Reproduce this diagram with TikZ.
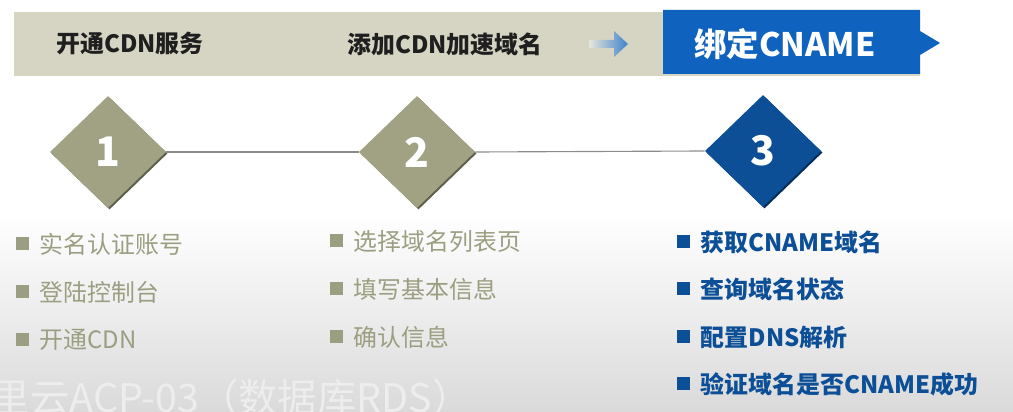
\documentclass[tikz,border=0pt]{standalone}
\usepackage{fontspec}
\setmainfont{Noto Sans CJK SC}
\usetikzlibrary{shapes.geometric}
\definecolor{bandgray}{HTML}{D6D5C3}
\definecolor{olive}{HTML}{A0A283}
\definecolor{oliveshade}{HTML}{5E5F4C}
\definecolor{listolive}{HTML}{9C9E81}
\definecolor{cnameblue}{HTML}{0F63BE}
\definecolor{deepblue}{HTML}{0C4F97}
\definecolor{blueshade}{HTML}{062C57}
\definecolor{bgbottom}{HTML}{DADADA}
\definecolor{wmgray}{HTML}{EDEDED}
\newcommand{\sqbullet}{\raisebox{0.12em}{\rule{0.55em}{0.55em}}\hspace{0.45em}}
\tikzset{
  bandtext/.style={font=\bfseries\fontsize{17}{17}\selectfont, text=black!88},
  stepdiamond/.style={diamond, minimum width=2.9cm, minimum height=2.8cm, inner sep=0pt,
    text=white, font=\bfseries\fontsize{29}{29}\selectfont},
  linkline/.style={draw=black!45, line width=0.8pt},
  greyitem/.style={anchor=west, text=listolive, font=\fontsize{17}{17}\selectfont},
  blueitem/.style={anchor=west, text=deepblue, font=\bfseries\fontsize{17}{17}\selectfont}
}
\begin{document}
\begin{tikzpicture}[x=0.025cm,y=-0.025cm]
  \useasboundingbox (0,0) rectangle (1013,412);
  \clip (0,0) rectangle (1013,412);
  \shade[top color=white,bottom color=bgbottom] (0,215) rectangle (1013,412);
  % top band
  \fill[bandgray] (14,12) rectangle (920,76);
  \fill[cnameblue] (663,10) -- (920,10) -- (920,31) -- (940,43) -- (920,55) -- (920,74) -- (663,74) -- cycle;
  \node[bandtext] (open) at (130,43) {开通CDN服务};
  \node[bandtext] (add) at (445,44) {添加CDN加速域名};
  \shade[left color=bandgray!60!white, right color=cnameblue!80!white]
    (589,40) -- (614,40) -- (614,31) -- (628,44) -- (614,57) -- (614,48) -- (589,48) -- cycle;
  \node[font=\bfseries\fontsize{23}{23}\selectfont, text=white] (bind) at (785,44) {绑定CNAME};
  % steps
  \node[stepdiamond, fill=oliveshade] (s1) at (109.5,153.5) {};
  \node[stepdiamond, fill=oliveshade] (s2) at (418.5,153.5) {};
  \node[stepdiamond, fill=blueshade] (s3) at (764.5,152.5) {};
  \node[stepdiamond, fill=olive] (d1) at (108,152) {1};
  \node[stepdiamond, fill=olive] (d2) at (417,152) {2};
  \node[stepdiamond, fill=deepblue] (d3) at (763,151) {3};
  \draw[linkline] (d1.east) -- (d2.west);
  \draw[linkline] (d2.east) -- (d3.west);
  % lists
  \node[greyitem] (a1) at (11,244) {\sqbullet 实名认证账号};
  \node[greyitem] (a2) at (11,292) {\sqbullet 登陆控制台};
  \node[greyitem] (a3) at (11,340) {\sqbullet 开通CDN};
  \node[greyitem] (b1) at (325,241) {\sqbullet 选择域名列表页};
  \node[greyitem] (b2) at (325,289) {\sqbullet 填写基本信息};
  \node[greyitem] (b3) at (325,337) {\sqbullet 确认信息};
  \node[blueitem] (c1) at (672,242) {\sqbullet 获取CNAME域名};
  \node[blueitem] (c2) at (672,289) {\sqbullet 查询域名状态};
  \node[blueitem] (c3) at (672,337) {\sqbullet 配置DNS解析};
  \node[blueitem] (c4) at (672,384) {\sqbullet 验证域名是否CNAME成功};
  % caption
  \node[anchor=west, text=wmgray, font=\fontsize{28}{28}\selectfont] (wm) at (-14,398) {里云ACP-03（数据库RDS）};
\end{tikzpicture}
\end{document}
